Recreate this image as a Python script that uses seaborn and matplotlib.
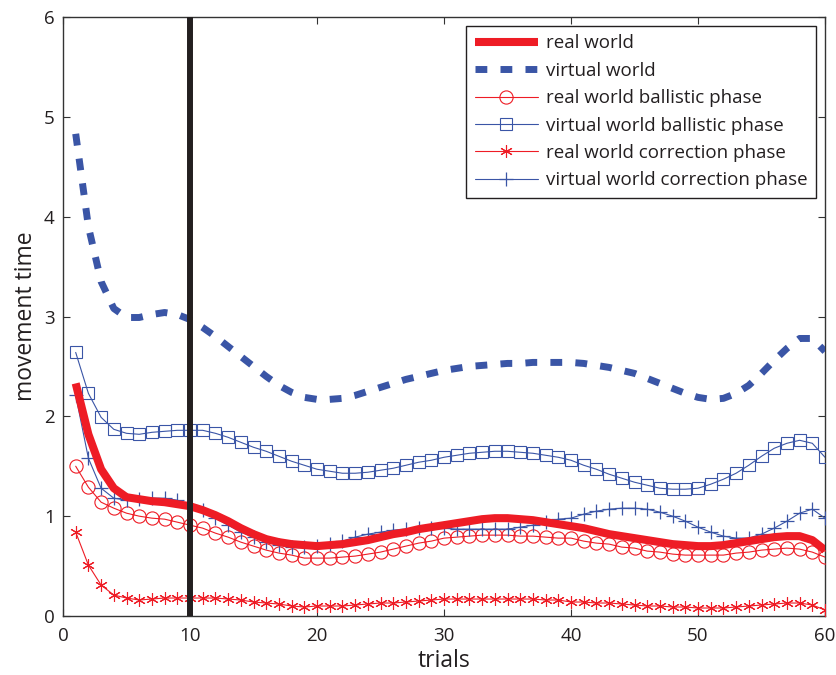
import numpy as np
import pandas as pd
import matplotlib
matplotlib.use("Agg")
import matplotlib.pyplot as plt
import seaborn as sns

trials = list(range(1, 61))

real_world = [2.33, 1.82, 1.47, 1.28, 1.19, 1.17, 1.15, 1.14, 1.12, 1.10,
              1.06, 1.01, 0.95, 0.88, 0.82, 0.77, 0.74, 0.72, 0.71, 0.70,
              0.71, 0.72, 0.74, 0.76, 0.79, 0.82, 0.84, 0.87, 0.89, 0.91,
              0.93, 0.95, 0.97, 0.98, 0.98, 0.97, 0.96, 0.94, 0.92, 0.90,
              0.88, 0.85, 0.82, 0.80, 0.78, 0.76, 0.74, 0.72, 0.71, 0.70,
              0.70, 0.71, 0.73, 0.75, 0.77, 0.79, 0.80, 0.80, 0.76, 0.66]

virtual_world = [4.83, 3.90, 3.35, 3.08, 2.99, 2.99, 3.02, 3.04, 3.02, 2.97,
                 2.89, 2.80, 2.70, 2.60, 2.50, 2.40, 2.31, 2.24, 2.19, 2.17,
                 2.17, 2.18, 2.21, 2.25, 2.29, 2.33, 2.37, 2.40, 2.43, 2.46,
                 2.48, 2.50, 2.51, 2.52, 2.53, 2.53, 2.54, 2.54, 2.54, 2.54,
                 2.53, 2.51, 2.49, 2.46, 2.43, 2.38, 2.33, 2.28, 2.23, 2.19,
                 2.17, 2.18, 2.23, 2.31, 2.43, 2.56, 2.68, 2.78, 2.78, 2.65]

real_ballistic = [1.50, 1.29, 1.14, 1.08, 1.03, 1.00, 0.98, 0.97, 0.94, 0.91,
                  0.88, 0.83, 0.79, 0.74, 0.70, 0.66, 0.63, 0.61, 0.58, 0.58,
                  0.58, 0.59, 0.60, 0.62, 0.64, 0.67, 0.70, 0.73, 0.75, 0.78,
                  0.79, 0.80, 0.81, 0.81, 0.81, 0.80, 0.80, 0.79, 0.78, 0.78,
                  0.75, 0.73, 0.72, 0.69, 0.68, 0.65, 0.64, 0.62, 0.61, 0.61,
                  0.61, 0.61, 0.63, 0.64, 0.66, 0.67, 0.68, 0.67, 0.64, 0.59]

virtual_ballistic = [2.64, 2.23, 1.99, 1.87, 1.83, 1.82, 1.84, 1.85, 1.86, 1.86,
                     1.86, 1.83, 1.79, 1.74, 1.69, 1.65, 1.60, 1.55, 1.51, 1.47,
                     1.45, 1.43, 1.43, 1.44, 1.46, 1.48, 1.51, 1.54, 1.56, 1.59,
                     1.61, 1.63, 1.64, 1.65, 1.65, 1.64, 1.63, 1.61, 1.59, 1.56,
                     1.51, 1.47, 1.42, 1.38, 1.34, 1.31, 1.28, 1.27, 1.27, 1.28,
                     1.32, 1.37, 1.43, 1.51, 1.60, 1.68, 1.73, 1.76, 1.73, 1.59]

real_correction = [0.84, 0.51, 0.31, 0.21, 0.18, 0.16, 0.17, 0.18, 0.18, 0.18,
                   0.18, 0.18, 0.17, 0.16, 0.14, 0.13, 0.12, 0.10, 0.09, 0.10,
                   0.10, 0.10, 0.11, 0.12, 0.13, 0.13, 0.14, 0.15, 0.16, 0.17,
                   0.17, 0.17, 0.17, 0.17, 0.17, 0.17, 0.17, 0.16, 0.16, 0.14,
                   0.14, 0.13, 0.13, 0.12, 0.11, 0.10, 0.10, 0.09, 0.09, 0.08,
                   0.08, 0.08, 0.09, 0.10, 0.11, 0.12, 0.13, 0.13, 0.11, 0.06]

virtual_correction = [2.21, 1.58, 1.28, 1.18, 1.16, 1.17, 1.18, 1.18, 1.16, 1.11,
                      1.06, 0.98, 0.91, 0.84, 0.79, 0.74, 0.71, 0.69, 0.69, 0.70,
                      0.72, 0.75, 0.79, 0.82, 0.84, 0.86, 0.87, 0.88, 0.88, 0.88,
                      0.87, 0.87, 0.87, 0.87, 0.87, 0.89, 0.91, 0.94, 0.97, 0.98,
                      1.02, 1.05, 1.07, 1.08, 1.08, 1.07, 1.04, 1.00, 0.95, 0.89,
                      0.84, 0.80, 0.78, 0.78, 0.82, 0.88, 0.95, 1.03, 1.07, 0.98]

phase_boundary = 10
x_ticks = [0, 10, 20, 30, 40, 50, 60]
y_ticks = [0, 1, 2, 3, 4, 5, 6]

sns.set_theme(style="white")
plt.rcParams['font.family'] = ['Open Sans', 'DejaVu Sans']

RED = '#EE1C25'
BLUE = '#3A55A6'
INK = '#231F20'

fig = plt.figure(figsize=(8.36, 6.75), dpi=100)
ax = fig.add_axes([63/836, 1 - 616/675, (825-63)/836, (616-17)/675])

sns.lineplot(x=trials, y=real_world, ax=ax, color=RED, linewidth=5.8,
             label='real world', solid_capstyle='butt', zorder=4)
sns.lineplot(x=trials, y=virtual_world, ax=ax, color=BLUE, linewidth=5.0,
             linestyle=(0, (1.7, 1.9)), dash_capstyle='butt',
             label='virtual world', zorder=4)
sns.lineplot(x=trials, y=real_ballistic, ax=ax, color=RED, linewidth=0.8,
             marker='o', markersize=9.5, markerfacecolor='none',
             markeredgecolor=RED, markeredgewidth=0.8,
             label='real world ballistic phase', zorder=3)
sns.lineplot(x=trials, y=virtual_ballistic, ax=ax, color=BLUE, linewidth=0.8,
             marker='s', markersize=8.5, markerfacecolor='none',
             markeredgecolor=BLUE, markeredgewidth=0.8,
             label='virtual world ballistic phase', zorder=3)
sns.lineplot(x=trials, y=real_correction, ax=ax, color=RED, linewidth=0.8,
             marker=(6, 2, 0), markersize=9, markeredgecolor=RED,
             markeredgewidth=0.8,
             label='real world correction phase', zorder=3)
sns.lineplot(x=trials, y=virtual_correction, ax=ax, color=BLUE, linewidth=0.8,
             marker='+', markersize=10, markeredgecolor=BLUE,
             markeredgewidth=0.9,
             label='virtual world correction phase', zorder=3)

ax.axvline(phase_boundary, color=INK, linewidth=4.3, zorder=5)

ax.set_xlim(0, 60)
ax.set_ylim(0, 6)
ax.set_xticks(x_ticks)
ax.set_yticks(y_ticks)
ax.tick_params(direction='in', length=5, width=0.8, colors='#333333',
               labelcolor=INK, labelsize=13.5, top=True, right=True,
               bottom=True, left=True, pad=6)
ax.tick_params(axis='x', pad=8)
for s in ax.spines.values():
    s.set_color('#333333')
    s.set_linewidth(1.0)
    s.set_visible(True)

ax.set_xlabel('trials', fontsize=16.5, color=INK, labelpad=3)
ax.set_ylabel('movement time', fontsize=16.5, color=INK, labelpad=4)

leg = ax.legend(loc='upper right', bbox_to_anchor=(0.988, 0.985),
                borderaxespad=0, fontsize=13.5, handlelength=3.4,
                labelspacing=0.5, frameon=True, fancybox=False,
                framealpha=1, edgecolor=INK, borderpad=0.45,
                handletextpad=0.4)
leg.get_frame().set_linewidth(1.0)
for t in leg.get_texts():
    t.set_color(INK)

fig.savefig('out.png', dpi=100)
